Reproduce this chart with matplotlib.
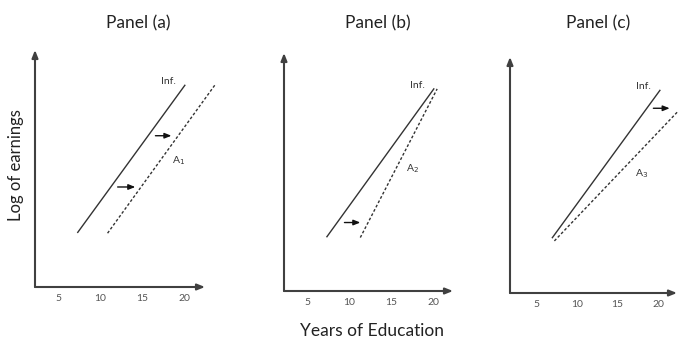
import matplotlib
matplotlib.use("Agg")
import matplotlib.pyplot as plt

plt.rcParams['font.family'] = ['Lato', 'DejaVu Sans']

panel_titles = ["Panel (a)", "Panel (b)", "Panel (c)"]
tick_values = [5, 10, 15, 20]
tick_labels = ["5", "10", "15", "20"]
# Line endpoints per panel (years of education, log earnings units)
inf_x = [[7.35, 20.1], [7.3, 20.1], [7.0, 20.2]]
inf_y = [[6.5, 24.0], [6.5, 24.2], [6.8, 24.9]]
alt_x = [[10.9, 23.8], [11.3, 20.5], [7.25, 22.4]]
alt_y = [[6.4, 24.2], [6.4, 24.2], [6.4, 22.3]]
alt_labels = ["A$_1$", "A$_2$", "A$_3$"]
# shift arrows: (x_start, x_end, y)
shift_arrows = [[(12.1, 14.2, 11.9), (16.6, 18.5, 18.0)],
                [(9.4, 11.3, 8.2)],
                [(19.4, 21.4, 22.7)]]
inf_label_pos = [(18.2, 24.5), (18.2, 24.6), (18.2, 25.4)]
alt_label_pos = [(19.3, 15.0), (17.5, 14.7), (18.0, 14.7)]

# layout (pixels) for each panel: left, right, bottom, top, and xlim, ylim
W, H = 678, 340
px = [(35, 205, 287, 50), (284, 453, 291, 53), (510, 677, 293, 57)]
xlims = [(2.26, 22.5), (2.16, 22.4), (1.8, 22.3)]
ylims = [(0, 28.2), (0, 28.5), (0, 29.0)]

axis_col = "#404040"
text_col = "#333333"

fig = plt.figure(figsize=(W / 100, H / 100), dpi=100)
fig.patch.set_facecolor("white")

for i in range(3):
    l, r, b, t = px[i]
    ax = fig.add_axes([l / W, 1 - b / H, (r - l) / W, (b - t) / H])
    ax.set_xlim(*xlims[i])
    ax.set_ylim(*ylims[i])
    for s in ax.spines.values():
        s.set_visible(False)
    ax.set_yticks([])
    ax.set_xticks(tick_values)
    ax.set_xticklabels(tick_labels, fontsize=7.5, color="#555555")
    ax.tick_params(axis="x", length=0, pad=5)
    ax.patch.set_alpha(0)

    # axis arrows
    ax.annotate("", xy=(1, 0), xytext=(0, 0), xycoords="axes fraction",
                arrowprops=dict(arrowstyle="-|>,head_length=0.45,head_width=0.18",
                                color=axis_col, lw=1.5, shrinkA=0, shrinkB=0))
    ax.annotate("", xy=(0, 1), xytext=(0, 0), xycoords="axes fraction",
                arrowprops=dict(arrowstyle="-|>,head_length=0.45,head_width=0.18",
                                color=axis_col, lw=1.5, shrinkA=0, shrinkB=0))

    ax.plot(inf_x[i], inf_y[i], color="#333333", lw=1.0, clip_on=False)
    ax.plot(alt_x[i], alt_y[i], color="#333333", lw=1.0, ls=(0, (2.0, 1.5)),
            clip_on=False)

    for (x0, x1, y) in shift_arrows[i]:
        ax.annotate("", xy=(x1, y), xytext=(x0, y), xycoords="data",
                    annotation_clip=False,
                    arrowprops=dict(arrowstyle="-|>,head_length=0.4,head_width=0.16",
                                    color="#111111", lw=1.0, shrinkA=0, shrinkB=0))

    ax.text(*inf_label_pos[i], "Inf.", fontsize=7.5, color=text_col,
            ha="center", va="center", clip_on=False)
    ax.text(*alt_label_pos[i], alt_labels[i], fontsize=7.5, color=text_col,
            ha="center", va="center", clip_on=False)

title_x = [138, 378, 598]
for i in range(3):
    fig.text(title_x[i] / W, 1 - 23 / H, panel_titles[i], fontsize=12.5,
             color="#222222", ha="center", va="center")

fig.text(16 / W, 1 - 165 / H, "Log of earnings", fontsize=12, color="#222222",
         rotation=90, ha="center", va="center")
fig.text(372 / W, 1 - 331 / H, "Years of Education", fontsize=12.5,
         color="#222222", ha="center", va="center")

fig.savefig("out.png", dpi=100, facecolor="white")
